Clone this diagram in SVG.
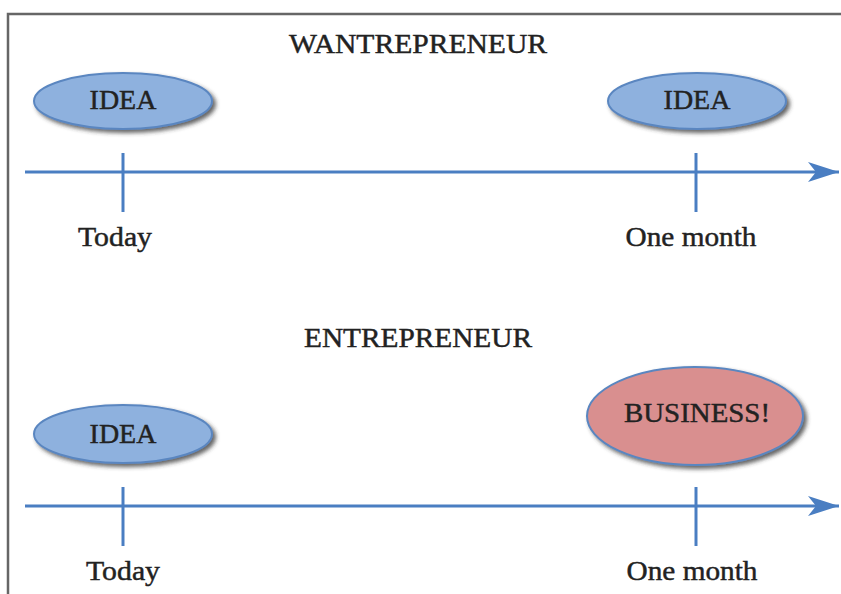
<svg xmlns="http://www.w3.org/2000/svg" width="841" height="594" viewBox="0 0 841 594">
<defs>
<filter id="sh" x="-20%" y="-30%" width="150%" height="170%">
<feDropShadow dx="3" dy="3" stdDeviation="2" flood-color="#333" flood-opacity="0.75"/>
</filter>
<marker id="arr" markerWidth="32" markerHeight="22" refX="31" refY="11" orient="auto" markerUnits="userSpaceOnUse">
<path d="M0,1 L31,11 L0,21 L8,11 Z" fill="#4A7EC2"/>
</marker>
<style>
.t{font-family:"Liberation Serif","Times New Roman",serif;font-size:28px;fill:#222;stroke:#222;stroke-width:0.45;text-anchor:middle}
.blue{fill:#8EB1DE;stroke:#5A86C0;stroke-width:2}
.pink{fill:#D98F8F;stroke:#5A86C0;stroke-width:2}
.ax{stroke:#4A7EC2;stroke-width:3;fill:none}
</style>
</defs>
<rect width="841" height="594" fill="#fff"/>
<g id="frame">
<path d="M8,594 L8,14 L841,14" fill="none" stroke="#666" stroke-width="2.5"/>
</g>
<text class="t" x="418" y="53" textLength="258" lengthAdjust="spacingAndGlyphs">WANTREPRENEUR</text>
<text class="t" x="418" y="347" textLength="228" lengthAdjust="spacingAndGlyphs">ENTREPRENEUR</text>
<g id="connectors">
<line class="ax" x1="25" y1="172" x2="839" y2="172" marker-end="url(#arr)"/>
<line class="ax" x1="123" y1="153" x2="123" y2="212"/>
<line class="ax" x1="696" y1="153" x2="696" y2="212"/>
<line class="ax" x1="25" y1="506" x2="839" y2="506" marker-end="url(#arr)"/>
<line class="ax" x1="123" y1="487" x2="123" y2="546"/>
<line class="ax" x1="696" y1="487" x2="696" y2="546"/>
</g>
<g id="idea1">
<ellipse class="blue" cx="123" cy="101" rx="89" ry="28" filter="url(#sh)"/>
<text class="t" x="123" y="109">IDEA</text>
</g>
<g id="idea2">
<ellipse class="blue" cx="697" cy="101" rx="89" ry="28" filter="url(#sh)"/>
<text class="t" x="697" y="109">IDEA</text>
</g>
<g id="idea3">
<ellipse class="blue" cx="123" cy="434" rx="89" ry="29" filter="url(#sh)"/>
<text class="t" x="123" y="443">IDEA</text>
</g>
<g id="business">
<ellipse class="pink" cx="695" cy="416" rx="108" ry="49" filter="url(#sh)"/>
<text class="t" x="697" y="422" textLength="146" lengthAdjust="spacingAndGlyphs">BUSINESS!</text>
</g>
<g id="labels">
<text class="t" x="115" y="246" textLength="74" lengthAdjust="spacingAndGlyphs">Today</text>
<text class="t" x="691" y="246" textLength="131" lengthAdjust="spacingAndGlyphs">One month</text>
<text class="t" x="123" y="580" textLength="74" lengthAdjust="spacingAndGlyphs">Today</text>
<text class="t" x="692" y="580" textLength="131" lengthAdjust="spacingAndGlyphs">One month</text>
</g>
</svg>
